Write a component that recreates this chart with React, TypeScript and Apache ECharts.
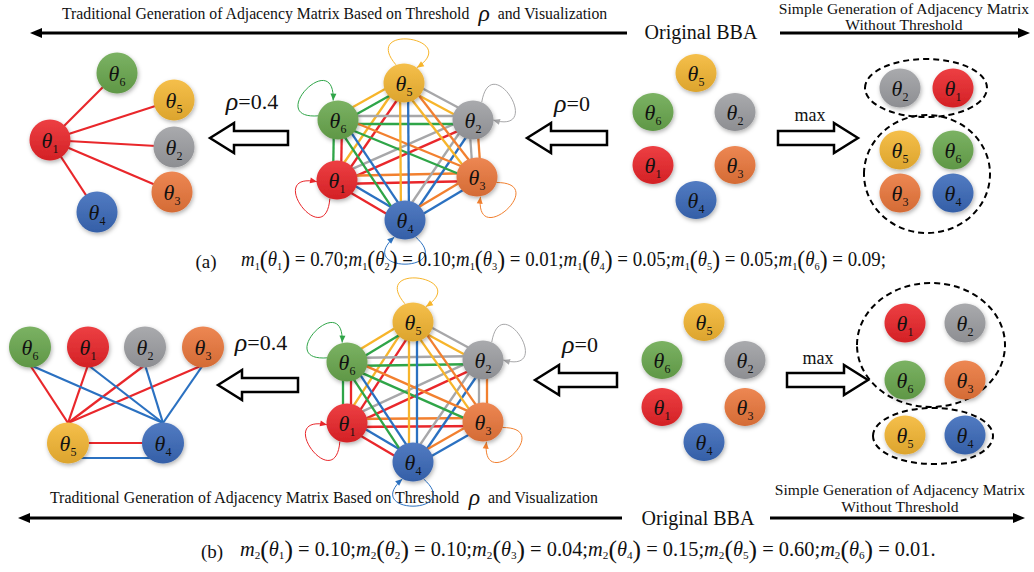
import React, { useEffect, useRef } from "react";
import * as echarts from "echarts";

const SERIF = "'Liberation Serif', 'Times New Roman', serif";
const W = 1034;
const H = 572;

// ---------------- data ----------------
const SUBSCRIPTS = ["1", "2", "3", "4", "5", "6"];
const M1 = [0.7, 0.1, 0.01, 0.05, 0.05, 0.09];
const M2 = [0.1, 0.1, 0.04, 0.15, 0.6, 0.01];
const NODE_COLORS = ["#ea2529", "#9d9ea2", "#eb773b", "#3a69ba", "#f4b632", "#69a84e"];
const EDGE_COLORS = ["#e9272b", "#a7a7a9", "#f2802f", "#2b71c1", "#f7b52b", "#2fa548"];
const TXT_LEFT_A = "Traditional Generation of Adjacency Matrix Based on Threshold";
const TXT_LEFT_B = "and Visualization";
const TXT_RIGHT_1 = "Simple Generation of Adjacency Matrix";
const TXT_RIGHT_2 = "Without Threshold";
const TXT_MID = "Original BBA";
const RHO_LABELS = ["=0.4", "=0"];
const MAX_LABEL = "max";

// edges of the thresholded graphs (node indices, 0 = θ1)
const EDGES_LEFT_A = [[0, 5], [0, 4], [0, 1], [0, 2], [0, 3]];
const EDGES_LEFT_B_RED = [[4, 5], [4, 0], [4, 1], [4, 2]];
const EDGES_LEFT_B_BLUE = [[3, 5], [3, 0], [3, 1], [3, 2]];

// ---------------- layout (pixel positions of node centres) ----------------
const POS_LEFT_A = [[50, 140], [174, 147], [172, 192], [97, 212], [174, 100], [117, 73]];
const POS_MID_A = [[337, 180], [473, 120], [477, 177], [405, 220], [404, 83], [338, 120]];
const POS_ORIG_A = [[653, 165], [735, 112], [735, 165], [696, 200], [696, 73], [653, 112]];
const POS_MAX_A = [[953, 88], [900, 88], [900, 193], [953, 193], [900, 150], [953, 150]];
const POS_LEFT_B = [[88, 347], [145, 347], [203, 347], [163, 443], [68, 443], [30, 347]];
const POS_MID_B = [[347, 423], [483, 360], [483, 422], [413, 462], [413, 322], [347, 362]];
const POS_ORIG_B = [[662, 407], [745, 360], [745, 407], [704, 442], [704, 322], [662, 360]];
const POS_MAX_B = [[905, 323], [965, 323], [965, 380], [965, 435], [905, 435], [905, 380]];
const LOOP_ANGLES = [143, -32, 48, 90, -82, -136];

function shade(hex: string, f: number) {
  const n = parseInt(hex.slice(1), 16);
  const c = [n >> 16, (n >> 8) & 255, n & 255];
  const t = f < 0 ? 0 : 255;
  const p = Math.abs(f);
  const o = c.map((v) => Math.round((t - v) * p + v));
  return `rgb(${o[0]},${o[1]},${o[2]})`;
}

function nodeFill(c: string) {
  return {
    type: "linear",
    x: 0,
    y: 0,
    x2: 0,
    y2: 1,
    colorStops: [
      { offset: 0, color: shade(c, 0.12) },
      { offset: 1, color: shade(c, -0.1) },
    ],
  };
}

function seg(p: number[], q: number[], off: number) {
  const dx = q[0] - p[0];
  const dy = q[1] - p[1];
  const L = Math.hypot(dx, dy);
  const nx = (-dy / L) * off;
  const ny = (dx / L) * off;
  return [
    [p[0] + nx, p[1] + ny],
    [q[0] + nx, q[1] + ny],
  ];
}

function loop(c: number[], r: number, angDeg: number, color: string) {
  const a = (angDeg * Math.PI) / 180;
  const d1 = (32 * Math.PI) / 180;
  const d2 = (44 * Math.PI) / 180;
  const R = r + 54;
  const S = [c[0] + r * Math.cos(a - d1), c[1] + r * Math.sin(a - d1)];
  const E = [c[0] + r * Math.cos(a + d1), c[1] + r * Math.sin(a + d1)];
  const C1 = [c[0] + R * Math.cos(a - d2), c[1] + R * Math.sin(a - d2)];
  const C2 = [c[0] + R * Math.cos(a + d2), c[1] + R * Math.sin(a + d2)];
  const dx = E[0] - C2[0];
  const dy = E[1] - C2[1];
  const L = Math.hypot(dx, dy);
  const ux = dx / L;
  const uy = dy / L;
  const len = 7;
  const hw = 3;
  const b = [E[0] - ux * len, E[1] - uy * len];
  return [
    {
      type: "bezierCurve",
      silent: true,
      shape: { x1: S[0], y1: S[1], cpx1: C1[0], cpy1: C1[1], cpx2: C2[0], cpy2: C2[1], x2: E[0], y2: E[1] },
      style: { stroke: color, lineWidth: 1, fill: "none" },
    },
    {
      type: "polygon",
      silent: true,
      shape: { points: [E, [b[0] - uy * hw, b[1] + ux * hw], [b[0] + uy * hw, b[1] - ux * hw]] },
      style: { fill: color },
    },
  ];
}

function hollowArrow(x0: number, x1: number, yc: number, dir: number) {
  const hl = 24;
  const hh = 15;
  const sh = 7;
  const pts =
    dir < 0
      ? [[x0, yc], [x0 + hl, yc - hh], [x0 + hl, yc - sh], [x1, yc - sh], [x1, yc + sh], [x0 + hl, yc + sh], [x0 + hl, yc + hh]]
      : [[x1, yc], [x1 - hl, yc - hh], [x1 - hl, yc - sh], [x0, yc - sh], [x0, yc + sh], [x1 - hl, yc + sh], [x1 - hl, yc + hh]];
  return {
    type: "polygon",
    silent: true,
    shape: { points: pts },
    style: { fill: "#fff", stroke: "#000", lineWidth: 2.5, lineJoin: "miter" },
  };
}

function headerArrow(x0: number, x1: number, y: number, dir: number) {
  const hl = 12;
  const hw = 5;
  const tip = dir < 0 ? x0 : x1;
  const base = dir < 0 ? x0 + hl : x1 - hl;
  return [
    {
      type: "line",
      silent: true,
      shape: { x1: dir < 0 ? base : x0, y1: y, x2: dir < 0 ? x1 : base, y2: y },
      style: { stroke: "#000", lineWidth: 3 },
    },
    {
      type: "polygon",
      silent: true,
      shape: { points: [[tip, y], [base, y - hw], [base, y + hw]] },
      style: { fill: "#000" },
    },
  ];
}

function ellipse(cx: number, cy: number, rx: number, ry: number) {
  return {
    type: "ellipse",
    silent: true,
    shape: { cx, cy, rx, ry },
    style: { fill: "none", stroke: "#000", lineWidth: 2, lineDash: [6, 4] },
  };
}

const HEADER_RICH = {
  a: { fontFamily: SERIF, fontSize: 16, fill: "#111" },
  r: { fontFamily: SERIF, fontSize: 24, fontStyle: "italic", fill: "#111" },
};

const RHO_RICH = {
  r: { fontFamily: SERIF, fontSize: 26, fontStyle: "italic", fill: "#111" },
  n: { fontFamily: SERIF, fontSize: 22, fill: "#111" },
};

const FORMULA_RICH = {
  n: { fontFamily: SERIF, fontSize: 20, fill: "#111" },
  i: { fontFamily: SERIF, fontSize: 20, fontStyle: "italic", fill: "#111" },
  s: { fontFamily: SERIF, fontSize: 11, fill: "#111", padding: [13, 0, 0, 0] },
  p: { fontFamily: SERIF, fontSize: 25, fill: "#111" },
};

function formulaText(sub: string, values: number[], end: string) {
  let s = "";
  values.forEach((v, k) => {
    s += `{i|m}{s|${sub}}{p|(}{i|θ}{s|${SUBSCRIPTS[k]}}{p|)}{n| = ${v.toFixed(2)}${k === values.length - 1 ? end : ";"}}`;
  });
  return s;
}

function textEl(x: number, y: number, text: string, opts: any = {}) {
  return {
    type: "text",
    silent: true,
    x,
    y,
    scaleX: opts.scaleX ?? 1,
    scaleY: opts.scaleY ?? 1,
    style: {
      text,
      rich: opts.rich,
      fontFamily: SERIF,
      fontSize: opts.fontSize ?? 16,
      fill: "#111",
      align: opts.align ?? "center",
      verticalAlign: "middle",
    },
  };
}

function buildOption() {
  const panels = [
    { pos: POS_LEFT_A, size: [41, 41] },
    { pos: POS_MID_A, size: [41, 39] },
    { pos: POS_ORIG_A, size: [41, 38] },
    { pos: POS_MAX_A, size: [41, 39] },
    { pos: POS_LEFT_B, size: [42, 41] },
    { pos: POS_MID_B, size: [41, 39] },
    { pos: POS_ORIG_B, size: [41, 38] },
    { pos: POS_MAX_B, size: [41, 39] },
  ];
  const nodes: any[] = [];
  panels.forEach((p) => {
    p.pos.forEach((xy, k) => {
      nodes.push({
        value: xy,
        sub: SUBSCRIPTS[k],
        symbolSize: p.size,
        itemStyle: { color: nodeFill(NODE_COLORS[k]) },
      });
    });
  });

  const lines: any[] = [];
  const R = 20;
  const ls = (color: string, width: number) => ({ color, width, opacity: 1 });
  EDGES_LEFT_A.forEach(([i, j]) => {
    lines.push({ coords: [POS_LEFT_A[i], POS_LEFT_A[j]], lineStyle: ls(EDGE_COLORS[0], 2.2) });
  });
  EDGES_LEFT_B_RED.forEach(([i, j]) => {
    const a = POS_LEFT_B[i];
    const b = POS_LEFT_B[j];
    lines.push({ coords: [[a[0], a[1] - R], [b[0], b[1] + R - 2]], lineStyle: ls(EDGE_COLORS[0], 2.2) });
  });
  EDGES_LEFT_B_BLUE.forEach(([i, j]) => {
    const a = POS_LEFT_B[i];
    const b = POS_LEFT_B[j];
    lines.push({ coords: [[a[0], a[1] - R], [b[0], b[1] + R - 2]], lineStyle: ls(EDGE_COLORS[3], 2.2) });
  });
  {
    const a = POS_LEFT_B[4];
    const b = POS_LEFT_B[3];
    lines.push({ coords: [a, b], lineStyle: ls(EDGE_COLORS[0], 2.2) });
    lines.push({ coords: [[a[0], a[1] + 15], [b[0], b[1] + 15]], lineStyle: ls(EDGE_COLORS[3], 2.2) });
  }
  [POS_MID_A, POS_MID_B].forEach((pos) => {
    for (let i = 0; i < 6; i++) {
      for (let j = i + 1; j < 6; j++) {
        lines.push({ coords: seg(pos[i], pos[j], 4), lineStyle: ls(EDGE_COLORS[i], 2.3) });
        lines.push({ coords: seg(pos[i], pos[j], -4), lineStyle: ls(EDGE_COLORS[j], 2.3) });
      }
    }
  });

  const g: any[] = [];
  // headers
  g.push(
    textEl(62, 13, `{a|${TXT_LEFT_A}  }{r|ρ}{a|  ${TXT_LEFT_B}}`, { rich: HEADER_RICH, align: "left", scaleX: 0.985 }),
    ...headerArrow(30, 627, 33, -1),
    textEl(701, 32, TXT_MID, { fontSize: 20 }),
    ...headerArrow(780, 1030, 33, 1),
    textEl(904, 8, TXT_RIGHT_1, { fontSize: 15.6 }),
    textEl(904, 24, TXT_RIGHT_2, { fontSize: 15.6 })
  );
  g.push(
    textEl(50, 497, `{a|${TXT_LEFT_A}  }{r|ρ}{a|  ${TXT_LEFT_B}}`, { rich: HEADER_RICH, align: "left", scaleX: 0.99 }),
    ...headerArrow(18, 622, 518, -1),
    textEl(698, 518, TXT_MID, { fontSize: 20 }),
    ...headerArrow(770, 1025, 518, 1),
    textEl(900, 489, TXT_RIGHT_1, { fontSize: 15.6 }),
    textEl(900, 506, TXT_RIGHT_2, { fontSize: 15.6 })
  );
  // arrows and labels
  g.push(
    hollowArrow(210, 288, 138, -1),
    textEl(252, 101, `{r|ρ}{n|${RHO_LABELS[0]}}`, { rich: RHO_RICH }),
    hollowArrow(527, 607, 138, -1),
    textEl(572, 103, `{r|ρ}{n|${RHO_LABELS[1]}}`, { rich: RHO_RICH }),
    hollowArrow(778, 858, 138, 1),
    textEl(810, 115, MAX_LABEL, { fontSize: 18 }),
    hollowArrow(218, 298, 385, -1),
    textEl(261, 342, `{r|ρ}{n|${RHO_LABELS[0]}}`, { rich: RHO_RICH }),
    hollowArrow(535, 617, 380, -1),
    textEl(580, 344, `{r|ρ}{n|${RHO_LABELS[1]}}`, { rich: RHO_RICH }),
    hollowArrow(787, 868, 380, 1),
    textEl(818, 358, MAX_LABEL, { fontSize: 18 })
  );
  g.push(ellipse(926, 88, 61, 29), ellipse(927, 174, 63, 59), ellipse(931, 345, 74, 62), ellipse(933, 436, 60, 28));
  // self loops
  [POS_MID_A, POS_MID_B].forEach((pos) => {
    pos.forEach((c, k) => g.push(...loop(c, 20, LOOP_ANGLES[k], EDGE_COLORS[k])));
  });
  // formulas
  g.push(
    textEl(206, 261, "(a)", { fontSize: 19 }),
    textEl(241, 259, formulaText("1", M1, ";"), { rich: FORMULA_RICH, align: "left", scaleX: 0.945 }),
    textEl(212, 551, "(b)", { fontSize: 19 }),
    textEl(240, 549, formulaText("2", M2, "."), { rich: FORMULA_RICH, align: "left", scaleX: 1.02 })
  );

  return {
    animation: false,
    backgroundColor: "#fff",
    grid: { left: 0, right: 0, top: 0, bottom: 0 },
    xAxis: { type: "value", min: 0, max: W, show: false },
    yAxis: { type: "value", min: 0, max: H, inverse: true, show: false },
    series: [
      {
        type: "lines",
        coordinateSystem: "cartesian2d",
        z: 1,
        silent: true,
        lineStyle: { opacity: 1 },
        data: lines,
      },
      {
        type: "scatter",
        z: 3,
        silent: true,
        symbol: "circle",
        data: nodes,
        itemStyle: { opacity: 1, shadowBlur: 4, shadowColor: "rgba(0,0,0,0.3)", shadowOffsetY: 2, shadowOffsetX: 1 },
        label: {
          show: true,
          position: "inside",
          formatter: (p: any) => `{t|θ}{s|${p.data.sub}}`,
          rich: {
            t: { fontFamily: SERIF, fontStyle: "italic", fontSize: 22, color: "#111" },
            s: { fontFamily: SERIF, fontSize: 12, color: "#111", padding: [18, 0, 0, 0] },
          },
        },
      },
    ],
    graphic: { elements: g },
  };
}

export default function App() {
  const ref = useRef<HTMLDivElement>(null);
  useEffect(() => {
    if (!ref.current) return;
    const chart = echarts.init(ref.current, undefined, { renderer: "svg" });
    chart.setOption(buildOption() as any);
    return () => chart.dispose();
  }, []);
  return <div ref={ref} style={{ position: "absolute", left: 0, top: 0, width: W, height: H }} />;
}
